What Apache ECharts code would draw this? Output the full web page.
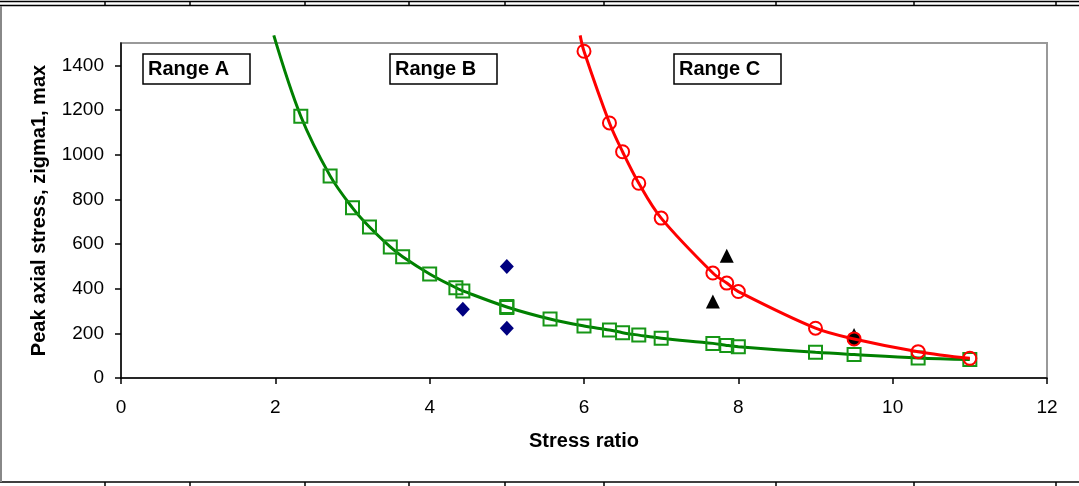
<!DOCTYPE html>
<html>
<head>
<meta charset="utf-8">
<script src="https://cdn.jsdelivr.net/npm/echarts@6/dist/echarts.min.js"></script>
<style>
html,body{margin:0;padding:0;background:#fff;}
#chart{width:1079px;height:486px;}
</style>
</head>
<body>
<div id="chart"></div>
<script>
// ---- Data ----
const xTicks = [0, 2, 4, 6, 8, 10, 12];
const yTicks = [0, 200, 400, 600, 800, 1000, 1200, 1400];

// green squares (stress ratio, peak axial stress)
const greenX = [2.33, 2.71, 3.0, 3.22, 3.49, 3.65, 4.0, 4.34, 4.43, 5.0, 5.0, 5.56, 6.0, 6.33, 6.5, 6.71, 7.0, 7.67, 7.85, 8.0, 9.0, 9.5, 10.33, 11.0];
const greenY = [1172, 905, 762, 676, 587, 543, 466, 404, 390, 320, 316, 264, 233, 215, 203, 192, 178, 155, 146, 140, 115, 105, 90, 83];
// green smoothed line (extends above the top of the plot)
const greenLineX = [1.98, 2.33, 2.71, 3.0, 3.22, 3.49, 3.65, 4.0, 4.34, 4.43, 5.0, 5.56, 6.0, 6.33, 6.5, 6.71, 7.0, 7.67, 7.85, 8.0, 9.0, 9.5, 10.33, 11.0];
const greenLineY = [1534, 1172, 905, 762, 676, 587, 543, 466, 404, 390, 318, 264, 233, 215, 203, 192, 178, 155, 146, 140, 115, 105, 90, 83];

// red circles
const redX = [6.0, 6.33, 6.5, 6.71, 7.0, 7.67, 7.85, 8.0, 9.0, 9.5, 10.33, 11.0];
const redY = [1463, 1142, 1013, 872, 716, 470, 425, 387, 223, 175, 118, 88];
const redLineX = [5.95, 6.0, 6.33, 6.5, 6.71, 7.0, 7.67, 7.85, 8.0, 9.0, 9.5, 10.33, 11.0];
const redLineY = [1534, 1463, 1142, 1013, 872, 716, 470, 425, 387, 223, 175, 118, 88];

// black triangles
const triX = [7.85, 7.67, 9.5];
const triY = [547, 342, 193];
// black dot
const dotX = [9.5];
const dotY = [175];
// navy diamonds
const diaX = [5.0, 4.43, 5.0];
const diaY = [499, 308, 223];

const rangeLabels = ['Range A', 'Range B', 'Range C'];

// ---- Build chart ----
const zip = (xs, ys) => xs.map((x, i) => [x, ys[i]]);
const FONT = '"Liberation Sans", Arial, sans-serif';

const chart = echarts.init(document.getElementById('chart'), null, {renderer: 'canvas'});

// decorative spreadsheet frame lines
const frame = [];
const cellX = [105, 190, 305, 409, 505, 604, 776, 914, 1056];
frame.push({type: 'line', shape: {x1: 0, y1: 1.5, x2: 1079, y2: 1.5}, style: {stroke: '#000', lineWidth: 1.5}, silent: true});
frame.push({type: 'line', shape: {x1: 0, y1: 5.5, x2: 1079, y2: 5.5}, style: {stroke: '#000', lineWidth: 1.5}, silent: true});
frame.push({type: 'line', shape: {x1: 0, y1: 482, x2: 1079, y2: 482}, style: {stroke: '#000', lineWidth: 1.5}, silent: true});
frame.push({type: 'line', shape: {x1: 1, y1: 6, x2: 1, y2: 482}, style: {stroke: '#888', lineWidth: 2}, silent: true});
cellX.forEach(x => {
  frame.push({type: 'line', shape: {x1: x, y1: 1.5, x2: x, y2: 5.5}, style: {stroke: '#000', lineWidth: 1.5}, silent: true});
  frame.push({type: 'line', shape: {x1: x, y1: 482, x2: x, y2: 486}, style: {stroke: '#000', lineWidth: 1.5}, silent: true});
});
// range label boxes
const boxLeft = [143, 390, 674];
rangeLabels.forEach((t, i) => {
  frame.push({type: 'rect', shape: {x: boxLeft[i], y: 54, width: 107, height: 30},
    style: {fill: '#fff', stroke: '#000', lineWidth: 1.5}, z: 10});
  frame.push({type: 'text', x: boxLeft[i] + 5, y: 69, z: 11,
    style: {text: t, font: 'bold 20px ' + FONT, fill: '#000', verticalAlign: 'middle', align: 'left'}});
});

const option = {
  animation: false,
  backgroundColor: '#fff',
  grid: {left: 121, right: 32, top: 43, bottom: 108, show: true, borderColor: '#999', borderWidth: 2},
  xAxis: {
    type: 'value', min: 0, max: 12, interval: 2,
    name: 'Stress ratio', nameLocation: 'middle', nameGap: 53,
    nameTextStyle: {fontFamily: FONT, fontSize: 20, fontWeight: 'bold', color: '#000'},
    axisLine: {show: true, lineStyle: {color: '#000', width: 1.5}},
    axisTick: {show: true, inside: false, length: 6, lineStyle: {color: '#000', width: 1.5}, customValues: xTicks},
    axisLabel: {fontFamily: FONT, fontSize: 19, color: '#000', margin: 20, customValues: xTicks,
      formatter: v => String(v)},
    splitLine: {show: false}
  },
  yAxis: {
    type: 'value', min: 0, max: 1500, interval: 100,
    name: 'Peak axial stress, zigma1, max', nameLocation: 'middle', nameGap: 72, nameRotate: 90,
    nameTextStyle: {fontFamily: FONT, fontSize: 20, fontWeight: 'bold', color: '#000'},
    axisLine: {show: true, lineStyle: {color: '#000', width: 1.5}},
    axisTick: {show: true, inside: false, length: 6, lineStyle: {color: '#000', width: 1.5}, customValues: yTicks},
    axisLabel: {fontFamily: FONT, fontSize: 19, color: '#000', margin: 17, customValues: yTicks,
      formatter: v => String(v)},
    splitLine: {show: false}
  },
  graphic: frame,
  series: [
    {
      type: 'line', data: zip(greenLineX, greenLineY), showSymbol: false, symbol: 'none',
      smooth: 0.35, clip: false,
      lineStyle: {color: '#008000', width: 3}, z: 2
    },
    {
      type: 'scatter', data: zip(greenX, greenY), symbol: 'rect', symbolSize: 13,
      itemStyle: {color: 'rgba(0,0,0,0)', borderColor: '#169616', borderWidth: 2, opacity: 1}, z: 3
    },
    {
      type: 'scatter', data: zip(triX, triY), symbol: 'triangle', symbolSize: 14,
      itemStyle: {color: '#000', opacity: 1}, z: 4
    },
    {
      type: 'scatter', data: zip(dotX, dotY), symbol: 'circle', symbolSize: 13,
      itemStyle: {color: '#000', opacity: 1}, z: 5
    },
    {
      type: 'line', data: zip(redLineX, redLineY), showSymbol: false, symbol: 'none',
      smooth: 0.35, clip: false,
      lineStyle: {color: '#ff0000', width: 3}, z: 6
    },
    {
      type: 'scatter', data: zip(redX, redY), symbol: 'circle', symbolSize: 13,
      itemStyle: {color: 'rgba(0,0,0,0)', borderColor: '#ff0000', borderWidth: 2, opacity: 1}, z: 7
    },
    {
      type: 'scatter', data: zip(diaX, diaY), symbol: 'diamond', symbolSize: [14, 15],
      itemStyle: {color: '#000080', opacity: 1}, z: 8
    }
  ]
};
chart.setOption(option);
</script>
</body>
</html>
